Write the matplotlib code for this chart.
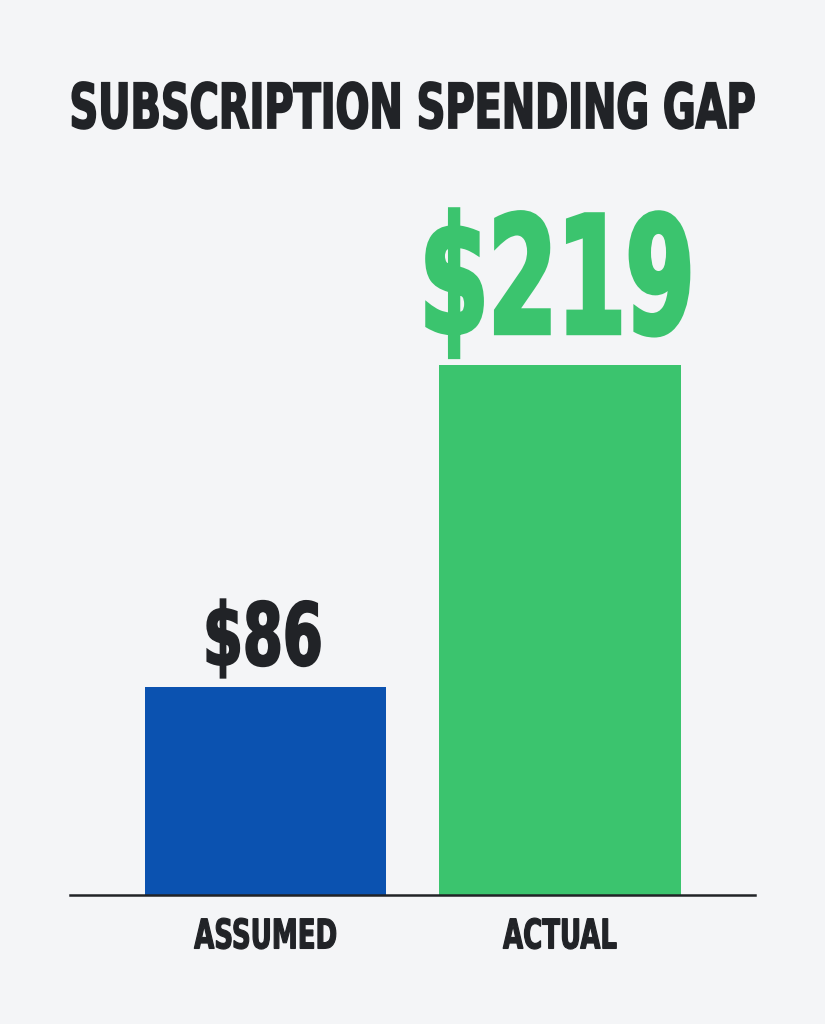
import matplotlib
matplotlib.use('Agg')
import matplotlib.pyplot as plt
from matplotlib.patheffects import AbstractPathEffect
from matplotlib.transforms import Affine2D

categories = ['ASSUMED', 'ACTUAL']
values = [86, 219]
value_labels = ['$86', '$219']
bar_colors = ['#0b52b0', '#3bc46e']
label_colors = ['#212327', '#3bc46e']
title = 'SUBSCRIPTION SPENDING GAP'

BG = '#f4f5f7'
INK = '#212327'
CAP = 0.729  # DejaVu cap height / em


class Condensed(AbstractPathEffect):
    # stretch glyphs upward from the baseline and fatten them a bit with an outline,
    # so DejaVu Bold looks like a heavy condensed face
    def __init__(self, sy=1.0, lw=0.0):
        super().__init__()
        self.sy = sy
        self.lw = lw

    def draw_path(self, renderer, gc, tpath, affine, rgbFace=None):
        t = Affine2D().scale(1, self.sy) + affine
        gc0 = renderer.new_gc()
        gc0.copy_properties(gc)
        gc0.set_linewidth(self.lw)
        gc0.set_foreground(rgbFace)
        gc0.set_joinstyle('miter')
        renderer.draw_path(gc0, tpath, t, rgbFace)
        gc0.restore()


fig = plt.figure(figsize=(8.25, 10.24), dpi=100, facecolor=BG)
ax = fig.add_axes([0.085, 0.126, 0.83, 0.728])
ax.set_facecolor(BG)

x = range(len(categories))
ax.bar(x, values, width=0.82, color=bar_colors, zorder=2)
ax.set_xlim(-0.664, 1.662)
ax.set_ylim(0, 308)

for s in ['top', 'right', 'left']:
    ax.spines[s].set_visible(False)
ax.spines['bottom'].set_color(INK)
ax.spines['bottom'].set_linewidth(1.8)
ax.set_yticks([])
ax.set_xticks(list(x))
ax.set_xticklabels(categories, fontsize=20, fontweight='bold', color=INK,
                   family='DejaVu Sans', va='baseline')
ax.tick_params(axis='x', length=0, pad=38.5)

# (text, target width px, target cap height px, outline px)
targets = []
for i, (v, lab) in enumerate(zip(values, value_labels)):
    off = 15.8 if i == 0 else 23
    t = ax.annotate(lab, (i, v), xytext=(-2, off),
                    textcoords='offset points', ha='center', va='baseline',
                    fontsize=40, fontweight='bold', color=label_colors[i],
                    family='DejaVu Sans')
    if i == 0:
        targets.append((t, 122, 65, 2.2))
    else:
        targets.append((t, 279, 123, 4.5))

tt = fig.text(0.5, 0.875, title, ha='center', va='baseline', fontsize=30,
              fontweight='bold', color=INK, family='DejaVu Sans')
targets.append((tt, 689, 47, 1.8))

for t, w in zip(ax.get_xticklabels(), [144, 115]):
    targets.append((t, w, 31, 1.2))

fig.canvas.draw()
r = fig.canvas.get_renderer()
for t, w, h, lw in targets:
    nat = t.get_window_extent(r).width
    fs = t.get_fontsize() * (w - lw) / nat
    t.set_fontsize(fs)
    sy = (h - lw) / (CAP * fs * 100 / 72)
    t.set_path_effects([Condensed(sy, lw * 0.72)])

fig.savefig('out.png', dpi=100, facecolor=BG)
